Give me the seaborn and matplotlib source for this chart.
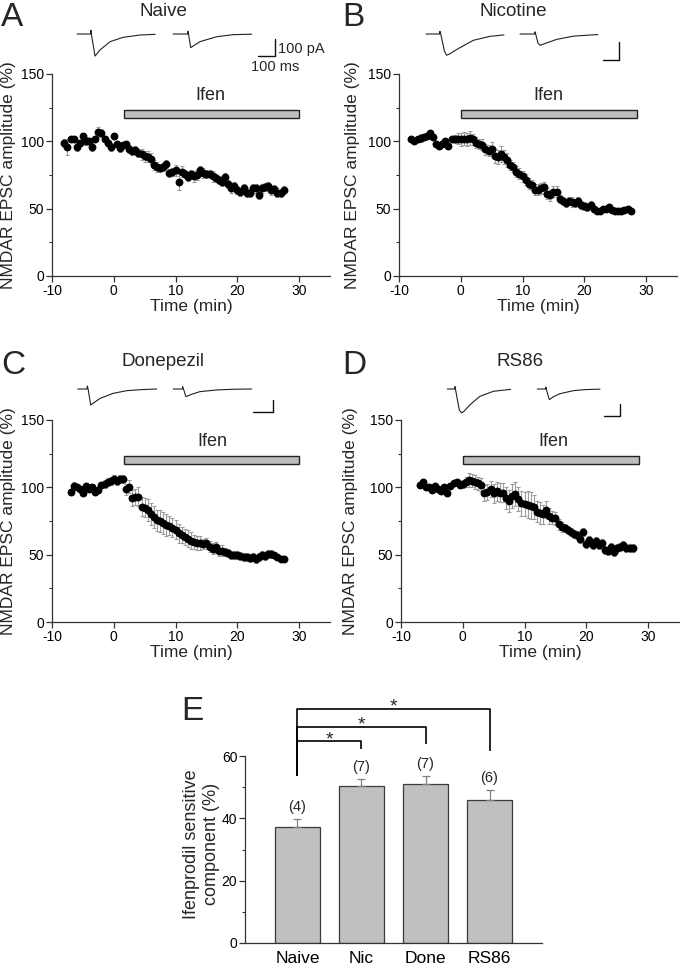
import numpy as np
import pandas as pd
import matplotlib
matplotlib.use("Agg")
import matplotlib.pyplot as plt
import seaborn as sns
from matplotlib.patches import Rectangle
from matplotlib.ticker import MultipleLocator

# ── Time-course data (0.5 min bins) ───────────────────────────
time_ab = np.arange(-8, 28, 0.5)
time_cd = np.arange(-7, 28, 0.5)

naive_amp = [98.5, 96, 101.5, 102, 95.5, 98.5, 104, 100, 100, 96, 102, 107, 106, 102, 99, 95.5,
             104, 98, 95, 97, 98, 94, 92.5, 93.5, 91.5, 90.5, 89, 88.5, 87, 82.5, 81, 80.5,
             81, 83.5, 76.5, 77.5, 78.5, 69.5, 77.5, 75.5, 73.5, 75.5, 74, 75, 79, 76.5, 75.5, 76,
             74, 73, 71.5, 70, 73.5, 68, 65, 66.5, 64, 62.5, 65, 61.5, 61.5, 65, 65, 60,
             65, 66, 67, 63.5, 64.5, 62, 61.5, 64]
naive_err = [3, 6, 2, 2, 3, 2, 2, 3, 2, 3, 2, 4, 3, 2, 2, 3,
             2, 2, 3, 2, 2, 3, 3, 3, 3, 4, 4, 4, 4, 4, 4, 3,
             3, 3, 3, 3, 4, 6, 4, 3, 3, 3, 4, 4, 3, 4, 3, 3,
             4, 3, 3, 3, 3, 3, 3, 3, 3, 3, 3, 3, 3, 3, 3, 3,
             3, 3, 3, 3, 3, 3, 3, 3]

nic_amp = [101.5, 100.5, 101.5, 102.5, 103.5, 104, 106, 103, 98, 96.5, 98, 100, 96.5, 102, 101.5, 102,
           101.5, 102, 101.5, 102.5, 101.5, 99, 98, 97.5, 94, 93, 94.5, 89, 88.5, 90.5, 88.5, 86,
           82.5, 81, 77.5, 76, 74, 71.5, 68.5, 67.5, 64, 64, 65, 66, 61, 60, 62.5, 62.5,
           57, 55.5, 54.5, 56, 55, 54.5, 56, 52.5, 52, 51, 52.5, 49.5, 48.5, 48.5, 49.5, 50,
           51.5, 49, 48.5, 48.5, 48, 49, 50, 48.5]
nic_err = [2, 2, 2, 3, 2, 2, 2, 2, 2, 2, 2, 2, 2, 2, 3, 4,
           5, 5, 5, 5, 4, 4, 4, 4, 4, 4, 5, 5, 5, 6, 5, 5,
           4, 4, 4, 4, 4, 4, 4, 4, 4, 4, 4, 4, 4, 4, 4, 4,
           3, 3, 3, 3, 4, 3, 3, 3, 3, 3, 3, 2, 2, 2, 2, 2,
           2, 2, 2, 2, 2, 2, 2, 2]

done_amp = [96.5, 101, 100, 98.5, 96, 101, 99, 100.5, 96.5, 98, 101.5, 102.5, 104, 105,
            106, 105, 106, 106.5, 98.5, 100.5, 92, 93, 93, 85.5, 85, 83, 80, 78, 75.5, 75,
            73.5, 72, 71.5, 70, 68.5, 66, 64.5, 63, 62, 60.5, 59.5, 58.5, 58.5, 58, 58.5, 56,
            54.5, 55.5, 53, 53, 52, 51, 50, 49.5, 50, 49, 48.5, 48.5, 47.5, 48, 47, 48.5,
            49.5, 49, 50.5, 50.5, 49.5, 48, 47, 47]
done_err = [2, 3, 2, 2, 2, 2, 2, 2, 2, 2, 2, 3, 3, 3,
            3, 3, 3, 3, 4, 5, 6, 6, 7, 7, 7, 8, 8, 8, 8, 8,
            8, 8, 7, 7, 7, 7, 6, 6, 6, 6, 5, 5, 5, 4, 4, 4,
            4, 4, 4, 4, 3, 3, 3, 3, 3, 3, 3, 3, 3, 3, 3, 3,
            3, 3, 3, 3, 2, 2, 2, 2]

rs86_amp = [101.5, 104, 100.5, 100.5, 98, 101, 98.5, 97.5, 100.5, 95.5, 101, 103, 104, 101.5,
            102.5, 104, 105.5, 105, 104, 103, 102, 96, 96.5, 99, 95.5, 97, 96, 96, 92, 90,
            93.5, 95, 91.5, 88, 87.5, 87, 86.5, 85.5, 82, 81, 80, 83.5, 78.5, 77.5, 77, 72.5,
            70.5, 69.5, 68, 67, 65.5, 64.5, 62, 67, 58, 61, 57, 60, 57.5, 58.5, 53.5, 52.5,
            56, 52, 55, 55.5, 57.5, 55, 55, 55]
rs86_err = [2, 2, 1, 1, 1, 1, 1, 1, 1, 1, 1, 1, 1, 2,
            3, 4, 5, 5, 5, 5, 5, 6, 6, 6, 7, 7, 7, 7, 8, 8,
            9, 9, 9, 9, 9, 10, 10, 9, 8, 8, 7, 6, 6, 5, 5, 4,
            4, 3, 3, 3, 3, 3, 3, 3, 3, 3, 3, 3, 3, 3, 3, 3,
            3, 3, 3, 3, 3, 3, 3, 3]

# Ifenprodil application window (min)
ifen_naive = (1.6, 30)
ifen_nic = (0, 28.5)
ifen_done = (1.6, 30)
ifen_rs86 = (0, 28.5)

# ── Example EPSC traces (ms, pA) ─────────────────────────────
naive_t1 = [0, 80, 82, 86, 106, 135, 195, 270, 370, 460]
naive_i1 = [0, 0, 22, -10, -130, -94, -45, -20, -6, -2]
naive_t2 = [0, 86, 88, 92, 104, 159, 257, 353, 463]
naive_i2 = [0, 0, 16, -5, -80, -45, -16, -4, -1]
nic_t1 = [0, 85, 87, 92, 115, 129, 145, 192, 296, 400, 487]
nic_i1 = [0, 0, 15, 0, -95, -118, -112, -86, -35, -13, -5]
nic_t2 = [0, 92, 94, 98, 112, 125, 150, 229, 333, 487]
nic_i2 = [0, 0, 12, 0, -50, -63, -55, -30, -12, -3]
done_t1 = [0, 46, 48, 52, 65, 112, 178, 245, 320, 395]
done_i1 = [0, 0, 25, 0, -133, -78, -36, -14, -5, 0]
done_t2 = [0, 45, 47, 51, 63, 90, 133, 217, 300, 392]
done_i2 = [0, 0, 20, 0, -64, -45, -22, -8, -2, 0]
rs86_t1 = [0, 46, 48, 55, 75, 90, 105, 142, 204, 288, 396]
rs86_i1 = [0, 0, 20, -30, -175, -200, -185, -131, -61, -19, -3]
rs86_t2 = [0, 52, 54, 58, 75, 100, 142, 225, 300, 392]
rs86_i2 = [0, 0, 15, -10, -89, -65, -39, -14, -5, -1]

# ── Panel E summary ──────────────────────────────────────────
groups = ["Naive", "Nic", "Done", "RS86"]
ifen_component = [37.3, 50.3, 51.1, 45.8]
ifen_sem = [2.4, 2.4, 2.5, 3.2]
n_cells = [4, 7, 7, 6]

# ── Style settings ────────────────────────────────────────────
sns.set_theme(style="ticks")
plt.rcParams["font.family"] = ["Liberation Sans", "DejaVu Sans"]
plt.rcParams["axes.unicode_minus"] = False
plt.rcParams["axes.edgecolor"] = "#333333"
plt.rcParams["axes.linewidth"] = 0.9
plt.rcParams["xtick.color"] = "#333333"
plt.rcParams["ytick.color"] = "#333333"
plt.rcParams["xtick.labelcolor"] = "black"
plt.rcParams["ytick.labelcolor"] = "black"

W, H = 680, 967
fig = plt.figure(figsize=(W / 100, H / 100), dpi=100)


def px_axes(left, top, right, bottom):
    return fig.add_axes([left / W, 1 - bottom / H, (right - left) / W, (bottom - top) / H])


def fig_text(x, y, s, **kw):
    fig.text(x / W, 1 - y / H, s, **kw)


def time_course(box, t, amp, err, ifen, ifen_x, ylab_x):
    ax = px_axes(*box)
    ax.errorbar(t, amp, yerr=err, fmt="none", ecolor="#9c9c9c",
                elinewidth=0.8, capsize=1.4, capthick=0.8, zorder=2)
    sns.scatterplot(x=t, y=amp, ax=ax, color="black", s=32,
                    edgecolor="black", linewidth=0, zorder=3)
    ax.add_patch(Rectangle((ifen[0], 117), ifen[1] - ifen[0], 6,
                           facecolor="#bdbdbd", edgecolor="#222222", lw=1.0))
    ax.text(ifen_x, 127.5, "Ifen", ha="center", va="bottom", fontsize=13)
    ax.set_xlim(-10, 35)
    ax.set_ylim(0, 150)
    ax.set_xticks([-10, 0, 10, 20, 30])
    ax.set_yticks([0, 50, 100, 150])
    ax.yaxis.set_minor_locator(MultipleLocator(25))
    ax.tick_params(which="major", length=4, width=0.9, labelsize=10, pad=1.5)
    ax.tick_params(which="minor", length=2.5, width=0.8)
    ax.set_xlabel("Time (min)", fontsize=12.5)
    ax.set_ylabel("NMDAR EPSC amplitude (%)", fontsize=12.5)
    ax.xaxis.set_label_coords(0.5, -0.115)
    ax.yaxis.set_label_coords(ylab_x, 0.5)
    sns.despine(ax=ax)
    return ax


def traces(box, base_y, px_ms, px_pa, starts, waves, corner):
    left, top, right, bottom = box
    ax = px_axes(left, top, right, bottom)
    ax.set_xlim(0, (right - left) / px_ms)
    ax.set_ylim(-(bottom - base_y) / px_pa, (base_y - top) / px_pa)
    ax.axis("off")
    for start, (tt, ii) in zip(starts, waves):
        off = (start - left) / px_ms
        ax.plot(np.array(tt) + off, ii, color="#222222", lw=0.8)
    bx = (corner[0] - left) / px_ms
    by = -(corner[1] - base_y) / px_pa
    ax.plot([bx - 100, bx, bx], [by, by, by + 100], color="#111111", lw=1.0)


# ══════════════════════════════════════════════════════════════
# Panels A–D — time courses
# ══════════════════════════════════════════════════════════════
time_course((52, 74, 330, 276), time_ab, naive_amp, naive_err, ifen_naive, 15.6, -0.13)
time_course((399, 74, 677, 276), time_ab, nic_amp, nic_err, ifen_nic, 14.2, -0.14)
time_course((52, 420, 330, 622), time_cd, done_amp, done_err, ifen_done, 16.0, -0.13)
time_course((401, 420, 679, 622), time_cd, rs86_amp, rs86_err, ifen_rs86, 14.7, -0.155)

traces((75, 26, 290, 62), 34, 0.17, 0.17, [77, 173],
       [(naive_t1, naive_i1), (naive_t2, naive_i2)], (275, 56))
traces((424, 26, 625, 64), 34, 0.16, 0.18, [426, 520],
       [(nic_t1, nic_i1), (nic_t2, nic_i2)], (619, 60))
traces((75, 380, 280, 418), 389, 0.20, 0.12, [77.7, 173.3],
       [(done_t1, done_i1), (done_t2, done_i2)], (273, 412))
traces((445, 380, 625, 420), 389, 0.16, 0.12, [447.3, 537.3],
       [(rs86_t1, rs86_i1), (rs86_t2, rs86_i2)], (620, 416))

fig_text(278, 49, "100 pA", ha="left", va="center", fontsize=10.5)
fig_text(251, 67, "100 ms", ha="left", va="center", fontsize=10.5)

for x, y, s in [(163, 11, "Naive"), (513, 11, "Nicotine"),
                (163, 362, "Donepezil"), (520, 362, "RS86")]:
    fig_text(x, y, s, ha="center", va="center", fontsize=13.5)

for x, y, s in [(1, 2, "A"), (342, 2, "B"), (1, 350, "C"), (342, 350, "D"), (181, 696, "E")]:
    fig_text(x, y, s, ha="left", va="top", fontsize=24)

# ══════════════════════════════════════════════════════════════
# Panel E — Ifenprodil sensitive component
# ══════════════════════════════════════════════════════════════
ax = px_axes(245, 756, 542, 943)
df = pd.DataFrame({"group": groups, "value": ifen_component})
sns.barplot(data=df, x="group", y="value", color="#c0c0c0", saturation=1,
            edgecolor="#3a3a3a", linewidth=0.9, width=0.7, errorbar=None, ax=ax)
ax.errorbar(range(len(groups)), ifen_component,
            yerr=[np.zeros(len(groups)), ifen_sem], fmt="none",
            ecolor="#808080", elinewidth=0.9, capsize=3, capthick=0.9, zorder=3)
for i, (m, e, n) in enumerate(zip(ifen_component, ifen_sem, n_cells)):
    ax.text(i, m + e + 1.6, f"({n})", ha="center", va="bottom", fontsize=10.5)

ax.set_xlim(-0.82, 3.82)
ax.set_ylim(0, 60)
ax.set_yticks([0, 20, 40, 60])
ax.yaxis.set_minor_locator(MultipleLocator(10))
ax.tick_params(axis="y", which="major", length=4, width=0.9, labelsize=10, pad=1.5)
ax.tick_params(axis="y", which="minor", length=2.5, width=0.8)
ax.tick_params(axis="x", length=0, labelsize=12.5, pad=6)
ax.set_xlabel("")
ax.set_ylabel("Ifenprodil sensitive\ncomponent (%)", fontsize=13)
ax.yaxis.set_label_coords(-0.084, 0.53)
sns.despine(ax=ax)

# significance brackets (Naive vs each group)
naive_top = 53.5
for j, level, drop in [(1, 64.7, 62.2), (2, 69.2, 64.0), (3, 75.0, 61.5)]:
    ax.plot([0, 0, j, j], [naive_top, level, level, drop], color="black",
            lw=1.2, clip_on=False, solid_capstyle="butt")
    ax.text(j / 2, level + 0.6, "*", ha="center", va="center", fontsize=14)

plt.savefig("out.png", dpi=100)
